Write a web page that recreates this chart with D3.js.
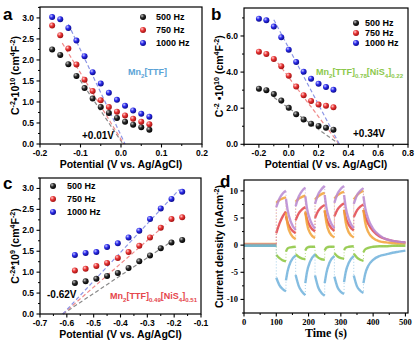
<!DOCTYPE html>
<html>
<head>
<meta charset="utf-8">
<script src="https://cdn.jsdelivr.net/npm/d3@7"></script>
<style>
  body { margin: 0; background: #fff; }
  svg { display: block; }
</style>
</head>
<body>
<div id="chart"></div>
<script>
// ---- data ----
const freqLabels = ["500 Hz", "750 Hz", "1000 Hz"];

// panel a: Mn2[TTF]
const potA = [-0.17, -0.15, -0.13, -0.11, -0.09, -0.07, -0.05, -0.03, -0.01, 0.01, 0.03, 0.05, 0.07];
const a500 = [2.25, 2.12, 1.90, 1.62, 1.33, 1.08, 0.88, 0.74, 0.62, 0.53, 0.46, 0.40, 0.34];
const a750 = [2.82, 2.59, 2.27, 1.89, 1.53, 1.26, 1.04, 0.88, 0.77, 0.68, 0.60, 0.53, 0.47];
const a1000 = [3.02, 2.97, 2.76, 2.46, 2.09, 1.71, 1.44, 1.22, 1.05, 0.91, 0.80, 0.72, 0.65];
const fitA = [[[-0.11, 1.65], [0.005, 0]], [[-0.145, 2.4], [0.007, 0]], [[-0.13, 2.85], [0.01, 0]]];

// panel b: Mn2[TTF]0.78[NiS4]0.22
const potB = [-0.2, -0.15, -0.1, -0.05, 0.0, 0.05, 0.1, 0.15, 0.2, 0.25, 0.3];
const b500 = [3.08, 3.0, 2.78, 2.42, 2.02, 1.66, 1.38, 1.14, 1.02, 0.91, 0.81];
const b750 = [5.13, 5.0, 4.73, 4.33, 3.8, 3.2, 2.72, 2.4, 2.2, 2.13, 2.05];
const b1000 = [6.96, 6.87, 6.52, 5.93, 5.24, 4.56, 4.02, 3.63, 3.35, 3.17, 3.02];
const fitB = [[[-0.1, 2.6], [0.34, 0]], [[-0.1, 4.8], [0.34, 0]], [[-0.1, 6.9], [0.34, 0]]];

// panel c: Mn2[TTF]0.49[NiS4]0.51
const potC = [-0.57, -0.53, -0.49, -0.45, -0.41, -0.37, -0.33, -0.29, -0.25, -0.21, -0.17];
const c500 = [0.74, 0.78, 0.84, 0.91, 0.98, 1.10, 1.26, 1.40, 1.57, 1.71, 1.77];
const c750 = [1.04, 1.08, 1.15, 1.22, 1.34, 1.48, 1.63, 1.83, 2.06, 2.27, 2.31];
const c1000 = [1.41, 1.46, 1.48, 1.60, 1.69, 1.83, 1.99, 2.27, 2.52, 2.75, 2.92];
const fitC = [[[-0.615, 0], [-0.21, 1.73]], [[-0.615, 0], [-0.23, 2.15]], [[-0.615, 0], [-0.18, 2.98]]];

// panel d: photocurrent vs time (repeated times mark on/off jumps)
const timeD = [0, 20, 40, 60, 80, 100,
  100, 110, 120, 130, 130, 135, 145, 160,
  160, 170, 180, 190, 190, 195, 205, 220,
  220, 230, 240, 250, 250, 255, 265, 280,
  280, 290, 300, 310, 310, 315, 325, 340,
  340, 350, 360, 370, 370, 375, 385, 400, 420, 440, 460, 480, 500];
const dPurple = [0.1, 0.1, 0.1, 0.1, 0.1, 0.1,
  7.0, 8.6, 9.5, 10.0, 8.5, 6.5, 4.3, 2.8,
  7.2, 9.0, 10.0, 10.6, 9.0, 6.8, 4.6, 3.0,
  7.6, 9.4, 10.3, 10.9, 9.2, 7.0, 4.7, 3.1,
  7.8, 9.5, 10.4, 10.9, 9.2, 7.0, 4.7, 3.1,
  7.6, 9.2, 10.0, 10.5, 9.0, 7.0, 4.8, 3.0, 1.8, 1.1, 0.8, 0.6, 0.5];
const dOrange = [0.2, 0.2, 0.2, 0.2, 0.2, 0.2,
  7.8, 8.3, 8.6, 8.8, 6.0, 3.8, 2.0, 1.1,
  8.0, 8.6, 8.9, 9.1, 6.2, 4.0, 2.2, 1.3,
  8.4, 9.0, 9.4, 9.6, 6.5, 4.2, 2.3, 1.4,
  8.6, 9.2, 9.6, 9.8, 6.5, 4.2, 2.3, 1.4,
  8.4, 9.2, 9.7, 10.0, 6.5, 4.3, 2.4, 1.3, 0.7, 0.5, 0.4, 0.3, 0.3];
const dRed = [0.1, 0.1, 0.1, 0.1, 0.1, 0.1,
  2.2, 4.0, 5.3, 6.2, 5.3, 4.2, 3.0, 2.2,
  4.6, 5.9, 6.6, 7.0, 6.0, 4.8, 3.4, 2.5,
  5.0, 6.3, 7.0, 7.4, 6.3, 5.0, 3.6, 2.6,
  5.3, 6.6, 7.3, 7.7, 6.5, 5.1, 3.7, 2.7,
  5.2, 6.4, 7.1, 7.5, 6.5, 5.3, 3.9, 2.6, 1.6, 1.1, 0.8, 0.6, 0.5];
const dGreen = [-0.1, -0.1, -0.1, -0.1, -0.1, -0.1,
  -1.8, -2.4, -2.8, -3.0, -1.2, -0.6, -0.4, -0.3,
  -1.7, -2.2, -2.5, -2.6, -1.0, -0.5, -0.3, -0.3,
  -1.7, -2.3, -2.6, -2.7, -1.0, -0.5, -0.3, -0.3,
  -1.5, -2.1, -2.4, -2.5, -0.9, -0.5, -0.3, -0.2,
  -1.6, -2.3, -2.7, -2.9, -1.3, -0.8, -0.5, -0.3, -0.2, -0.2, -0.1, -0.1, -0.1];
const dBlue = [-0.1, -0.1, -0.1, -0.1, -0.1, -0.1,
  -6.0, -7.4, -8.1, -8.5, -6.5, -4.8, -3.0, -1.9,
  -5.5, -7.6, -8.6, -9.2, -7.0, -5.0, -3.0, -1.7,
  -5.6, -7.8, -8.8, -9.3, -7.0, -5.2, -3.2, -2.0,
  -5.8, -7.8, -8.6, -9.0, -6.8, -5.0, -3.2, -2.0,
  -5.6, -7.6, -8.4, -8.8, -7.0, -5.4, -3.8, -2.7, -2.0, -1.7, -1.4, -1.2, -1.0];

// ---- drawing ----
const W = 418, H = 340;
const SANS = "'Liberation Sans', Arial, sans-serif";
const SERIF = "'Liberation Serif', 'Times New Roman', serif";

const svg = d3.select("#chart").append("svg")
  .attr("width", W).attr("height", H)
  .attr("font-family", SANS);

const ballColors = [
  { id: "ball-k", stops: ["#c8c8c8", "#2a2a2a", "#000"] },
  { id: "ball-r", stops: ["#ffd0d0", "#e83535", "#a01010"] },
  { id: "ball-b", stops: ["#c8c8ff", "#2b2bea", "#0a0a8a"] }
];
const defs = svg.append("defs");
ballColors.forEach(c => {
  const g = defs.append("radialGradient").attr("id", c.id)
    .attr("cx", "35%").attr("cy", "32%").attr("r", "70%");
  g.append("stop").attr("offset", "0%").attr("stop-color", c.stops[0]);
  g.append("stop").attr("offset", "45%").attr("stop-color", c.stops[1]);
  g.append("stop").attr("offset", "100%").attr("stop-color", c.stops[2]);
});
const fitColors = ["#8a8a8a", "#f08a8a", "#8c96e6"];

// rich text with super/subscripts
function rich(sel, parts, size) {
  let off = 0;
  parts.forEach(([t, k]) => {
    const target = k === "sup" ? -size * 0.38 : k === "sub" ? size * 0.28 : 0;
    sel.append("tspan")
      .attr("dy", target - off)
      .attr("font-size", k ? size * 0.68 : size)
      .text(t);
    off = target;
  });
}

function frame(g, x, y, o) {
  const [x0, x1] = x.range(), [y0, y1] = y.range();
  const font = o.font || SANS;
  // minor ticks
  g.selectAll(".mx").data(o.xMinor).join("line")
    .attr("x1", d => x(d)).attr("x2", d => x(d))
    .attr("y1", y0).attr("y2", y0 + 2).attr("stroke", "#000").attr("stroke-width", 1);
  g.selectAll(".my").data(o.yMinor).join("line")
    .attr("y1", d => y(d)).attr("y2", d => y(d))
    .attr("x1", x0).attr("x2", x0 - 2).attr("stroke", "#000").attr("stroke-width", 1);
  // major ticks + labels
  g.selectAll(".tx").data(o.xTicks).join("line")
    .attr("x1", d => x(d)).attr("x2", d => x(d))
    .attr("y1", y0).attr("y2", y0 + 3.5).attr("stroke", "#000").attr("stroke-width", 1.1);
  g.selectAll(".ty").data(o.yTicks).join("line")
    .attr("y1", d => y(d)).attr("y2", d => y(d))
    .attr("x1", x0).attr("x2", x0 - 3.5).attr("stroke", "#000").attr("stroke-width", 1.1);
  g.selectAll(".lx").data(o.xTicks).join("text")
    .attr("x", d => x(d)).attr("y", y0 + 12)
    .attr("text-anchor", "middle").attr("font-size", 8.5).attr("font-weight", "bold")
    .attr("font-family", font).text(o.xFmt);
  g.selectAll(".ly").data(o.yTicks).join("text")
    .attr("x", x0 - 6).attr("y", d => y(d) + 3)
    .attr("text-anchor", "end").attr("font-size", 8.5).attr("font-weight", "bold")
    .attr("font-family", font).text(o.yFmt);
  // box
  g.append("rect")
    .attr("x", x0).attr("y", y1).attr("width", x1 - x0).attr("height", y0 - y1)
    .attr("fill", "none").attr("stroke", "#000").attr("stroke-width", 1.2);
}

function mottPanel(p) {
  const g = svg.append("g");
  const x = d3.scaleLinear().domain(p.xd).range(p.xr);
  const y = d3.scaleLinear().domain(p.yd).range(p.yr);

  // dashed fits
  const line = d3.line().x(d => x(d[0])).y(d => y(d[1]));
  g.selectAll(".fit").data(p.fits).join("path")
    .attr("d", line).attr("fill", "none")
    .attr("stroke", (d, i) => fitColors[i]).attr("stroke-width", 1.2)
    .attr("stroke-dasharray", "4,2.5");

  // spheres
  p.series.forEach((vals, i) => {
    g.selectAll(".s" + i).data(vals).join("circle")
      .attr("cx", (d, j) => x(p.pot[j])).attr("cy", d => y(d))
      .attr("r", 3).attr("fill", `url(#${ballColors[i].id})`);
  });

  frame(g, x, y, {
    xTicks: p.xTicks, yTicks: p.yTicks, xMinor: p.xMinor, yMinor: p.yMinor,
    xFmt: d => d.toFixed(1), yFmt: d => d.toFixed(1)
  });

  // legend
  freqLabels.forEach((t, i) => {
    g.append("circle").attr("cx", p.leg[0]).attr("cy", p.leg[1] + i * p.leg[3])
      .attr("r", 3).attr("fill", `url(#${ballColors[i].id})`);
    g.append("text").attr("x", p.leg[2]).attr("y", p.leg[1] + i * p.leg[3] + 3.3)
      .attr("font-size", 9).attr("font-weight", "bold").text(t);
  });

  // titles
  const xm = (p.xr[0] + p.xr[1]) / 2;
  g.append("text").attr("x", xm).attr("y", p.yr[0] + 24)
    .attr("text-anchor", "middle").attr("font-size", 10.5).attr("font-weight", "bold")
    .text("Potential (V vs. Ag/AgCl)");
  const ym = (p.yr[0] + p.yr[1]) / 2;
  const yt = g.append("text")
    .attr("transform", `translate(${p.xr[0] - 21},${ym}) rotate(-90)`)
    .attr("text-anchor", "middle").attr("font-weight", "bold");
  rich(yt, p.yTitle, 10.5);

  g.append("text").attr("x", p.letter[0]).attr("y", p.letter[1])
    .attr("font-size", 17).attr("font-weight", "bold").text(p.id);

  g.append("text").attr("x", p.vLabel[0]).attr("y", p.vLabel[1])
    .attr("font-size", 10).attr("font-weight", "bold").text(p.vText);

  const ct = g.append("text").attr("x", p.cLabel[0]).attr("y", p.cLabel[1])
    .attr("font-weight", "bold").attr("fill", p.cColor);
  rich(ct, p.cParts, 9);
}

const yTitle10 = [["C"], ["-2", "sup"], ["\u202210"], ["10", "sup"], [" (cm"], ["4", "sup"], ["F"], ["-2", "sup"], [")"]];

mottPanel({
  id: "a", xr: [40, 202], yr: [144, 7], xd: [-0.2, 0.2], yd: [0, 3.26],
  pot: potA, series: [a500, a750, a1000], fits: fitA,
  xTicks: [-0.2, -0.1, 0, 0.1, 0.2], xMinor: d3.range(-0.15, 0.2, 0.1),
  yTicks: d3.range(0, 3.01, 0.5), yMinor: d3.range(0.25, 3.26, 0.5),
  leg: [143, 17, 156, 13], letter: [3, 20],
  yTitle: yTitle10,
  vLabel: [82, 139], vText: "+0.01V",
  cLabel: [128, 75], cColor: "#5ba3d6",
  cParts: [["Mn"], ["2", "sub"], ["[TTF]"]]
});

mottPanel({
  id: "b", xr: [244, 408], yr: [144.3, 8], xd: [-0.3, 0.8], yd: [0, 7.55],
  pot: potB, series: [b500, b750, b1000], fits: fitB,
  xTicks: [-0.2, 0, 0.2, 0.4, 0.6, 0.8], xMinor: d3.range(-0.3, 0.75, 0.2),
  yTicks: [0, 2, 4, 6], yMinor: [1, 3, 5, 7],
  leg: [356, 23, 365, 10], letter: [211, 20],
  yTitle: [["C"], ["-2", "sup"], [" \u202210"], ["10", "sup"], [" (cm"], ["4", "sup"], ["F"], ["-2", "sup"], [")"]],
  vLabel: [353, 137], vText: "+0.34V",
  cLabel: [316, 75], cColor: "#8cc84b",
  cParts: [["Mn"], ["2", "sub"], ["[TTF]"], ["0.78", "sub"], ["[NiS"], ["4", "sub"], ["]"], ["0.22", "sub"]]
});

mottPanel({
  id: "c", xr: [40, 201], yr: [314, 178], xd: [-0.7, -0.1], yd: [0, 3.25],
  pot: potC, series: [c500, c750, c1000], fits: fitC,
  xTicks: [-0.7, -0.6, -0.5, -0.4, -0.3, -0.2, -0.1], xMinor: d3.range(-0.65, -0.1, 0.1),
  yTicks: d3.range(0, 3.01, 0.5), yMinor: d3.range(0.25, 3.26, 0.5),
  leg: [53, 186, 67, 13], letter: [3, 189],
  yTitle: [["C"], ["-2", "sup"], ["*10"], ["9", "sup"], [" (cm"], ["4", "sup"], ["F"], ["-2", "sup"], [")"]],
  vLabel: [47, 298], vText: "-0.62V",
  cLabel: [110, 299], cColor: "#e5454b",
  cParts: [["Mn"], ["2", "sub"], ["[TTF]"], ["0.49", "sub"], ["[NiS"], ["4", "sub"], ["]"], ["0.51", "sub"]]
});

// ---- panel d ----
(function () {
  const g = svg.append("g");
  const x = d3.scaleLinear().domain([0, 508]).range([244, 408]);
  const y = d3.scaleLinear().domain([-12.5, 12]).range([313, 180]);

  defs.append("clipPath").attr("id", "clip-d").append("rect")
    .attr("x", 244).attr("y", 180).attr("width", 164).attr("height", 133);

  const series = [
    { v: dRed, c: "#e2474d" },
    { v: dOrange, c: "#f2a33a" },
    { v: dPurple, c: "#b98ad2" },
    { v: dGreen, c: "#8cc63f" },
    { v: dBlue, c: "#72b3dc" }
  ];
  const line = d3.line().x(d => x(d[0])).y(d => y(d[1])).curve(d3.curveMonotoneX);
  const plot = g.append("g").attr("clip-path", "url(#clip-d)");
  series.forEach(s => {
    // split into segments at repeated times (light on/off jumps)
    const segs = [];
    let cur = [];
    timeD.forEach((t, i) => {
      if (i > 0 && t === timeD[i - 1]) { segs.push(cur); cur = []; }
      cur.push([t, s.v[i]]);
    });
    segs.push(cur);
    const pts = timeD.map((t, i) => [t, s.v[i]]);
    plot.append("path").attr("d", d3.line().x(d => x(d[0])).y(d => y(d[1]))(pts))
      .attr("fill", "none").attr("stroke", s.c).attr("stroke-width", 0.8)
      .attr("stroke-dasharray", "1,2").attr("opacity", 0.8);
    plot.selectAll(null).data(segs).join("path")
      .attr("d", line).attr("fill", "none")
      .attr("stroke", s.c).attr("stroke-width", 2.4).attr("opacity", 0.85);
  });

  frame(g, x, y, {
    xTicks: [0, 100, 200, 300, 400, 500], yTicks: [-10, -5, 0, 5, 10],
    xMinor: [50, 150, 250, 350, 450], yMinor: [-12.5, -7.5, -2.5, 2.5, 7.5],
    xFmt: d => d, yFmt: d => d, font: SERIF
  });

  g.append("text").attr("x", 326).attr("y", 337)
    .attr("text-anchor", "middle").attr("font-family", SERIF)
    .attr("font-size", 12).attr("font-weight", "bold").text("Time (s)");
  const yt = g.append("text")
    .attr("transform", `translate(223,${(313 + 180) / 2}) rotate(-90)`)
    .attr("text-anchor", "middle").attr("font-weight", "bold");
  rich(yt, [["Current density (nAcm"], ["-2", "sup"], [")"]], 10.5);

  g.append("text").attr("x", 220).attr("y", 187)
    .attr("font-size", 17).attr("font-weight", "bold").text("d");
})();
</script>
</body>
</html>
